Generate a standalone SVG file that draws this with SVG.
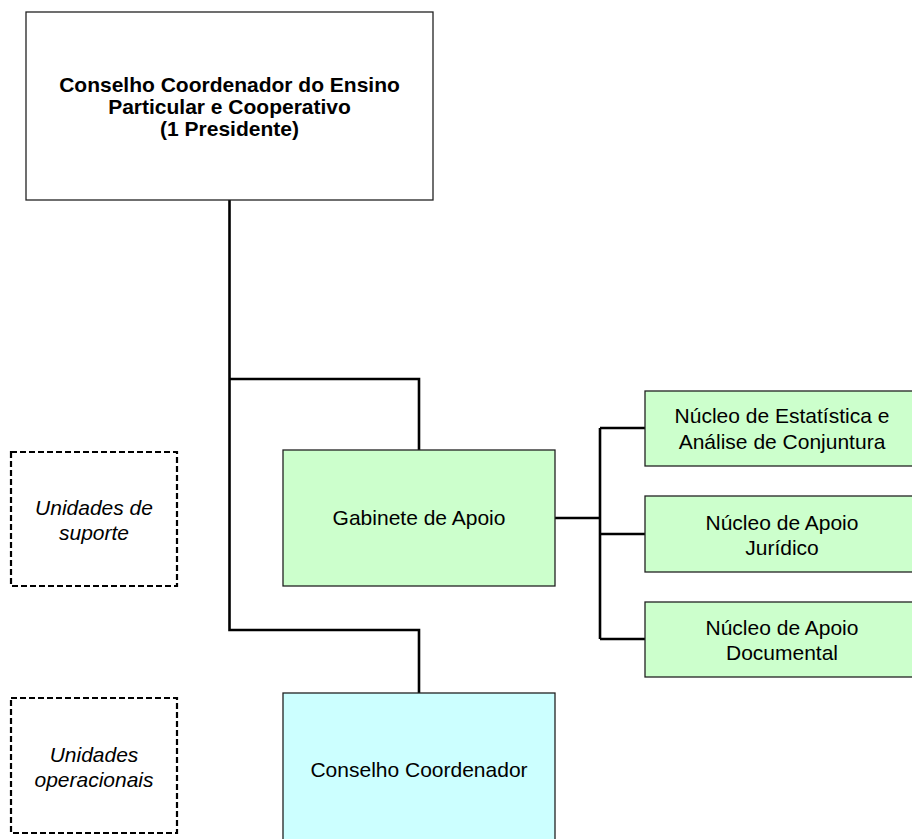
<svg xmlns="http://www.w3.org/2000/svg" width="912" height="839" viewBox="0 0 912 839">
<style>
.box{stroke:#222;stroke-width:1.3}
.t{font-family:"Liberation Sans",Arial,sans-serif;font-size:21px;fill:#000;text-anchor:middle}
.b{font-weight:bold}
.i{font-style:italic}
.dash{fill:none;stroke:#000;stroke-width:2.2;stroke-dasharray:6 3}
.conn{fill:none;stroke:#000;stroke-width:2.6;stroke-linejoin:miter}
</style>
<rect width="912" height="839" fill="#fff"/>
<g id="connectors">
<path class="conn" d="M229.5 200 V630 H419 V693"/>
<path class="conn" d="M229.5 379 H419 V450"/>
<path class="conn" d="M555 518 H600"/>
<path class="conn" d="M600 428 V639"/>
<path class="conn" d="M600 428 H645 M600 534 H645 M600 639 H645"/>
</g>
<g id="conselho-ensino">
<rect class="box" x="26" y="12" width="407" height="188" fill="#fff"/>
<text class="t b" x="229.5" y="92">Conselho Coordenador do Ensino</text>
<text class="t b" x="229.5" y="114">Particular e Cooperativo</text>
<text class="t b" x="229.5" y="136">(1 Presidente)</text>
</g>
<g id="unidades-suporte">
<rect class="dash" x="11" y="452" width="166" height="134"/>
<text class="t i" x="94" y="515">Unidades de</text>
<text class="t i" x="94" y="540">suporte</text>
</g>
<g id="unidades-operacionais">
<rect class="dash" x="11" y="698" width="166" height="135"/>
<text class="t i" x="94" y="762">Unidades</text>
<text class="t i" x="94" y="787">operacionais</text>
</g>
<g id="gabinete">
<rect class="box" x="283" y="450" width="272" height="136" fill="#CCFFCC"/>
<text class="t" x="419" y="525">Gabinete de Apoio</text>
</g>
<g id="nucleo-estatistica">
<rect class="box" x="645" y="391" width="275" height="75" fill="#CCFFCC"/>
<text class="t" x="782" y="423">Núcleo de Estatística e</text>
<text class="t" x="782" y="449">Análise de Conjuntura</text>
</g>
<g id="nucleo-juridico">
<rect class="box" x="645" y="496" width="275" height="76" fill="#CCFFCC"/>
<text class="t" x="782" y="530">Núcleo de Apoio</text>
<text class="t" x="782" y="555">Jurídico</text>
</g>
<g id="nucleo-documental">
<rect class="box" x="645" y="602" width="275" height="75" fill="#CCFFCC"/>
<text class="t" x="782" y="635">Núcleo de Apoio</text>
<text class="t" x="782" y="660">Documental</text>
</g>
<g id="conselho-coordenador">
<rect class="box" x="283" y="693" width="272" height="160" fill="#CCFFFF"/>
<text class="t" x="419" y="777">Conselho Coordenador</text>
</g>
</svg>
